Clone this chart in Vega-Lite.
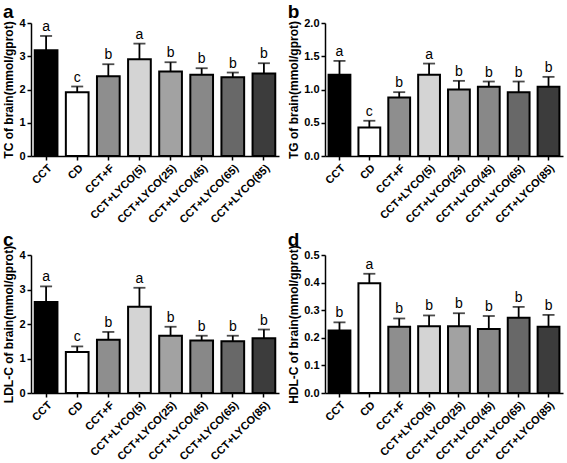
{
  "$schema": "https://vega.github.io/schema/vega-lite/v6.json",
  "background": "white",
  "padding": {"left": 2, "top": 3, "right": 2, "bottom": 0},
  "config": {
    "view": {"stroke": null},
    "font": "Liberation Sans",
    "axis": {
      "domainColor": "black", "domainWidth": 1.5, "tickColor": "black", "tickWidth": 1.5, "tickSize": 4,
      "labelColor": "black", "labelFont": "Liberation Sans", "labelFontWeight": "bold", "labelFontSize": 11, "labelOverlap": false,
      "titleColor": "black", "titleFont": "Liberation Sans", "titleFontWeight": "bold", "titleFontSize": 12, "grid": false
    },
    "axisX": {"labelFontSize": 11},
    "axisY": {"titlePadding": 3, "labelPadding": 2},
    "title": {"font": "Liberation Sans", "fontSize": 19, "fontWeight": "bold", "color": "black", "anchor": "start", "frame": "bounds", "offset": -5}
  },
  "datasets": {
    "d": [
      {"panel": "a", "group": "CCT", "mean": 3.18, "top": 3.61, "letter": "a"},
      {"panel": "a", "group": "CD", "mean": 1.92, "top": 2.09, "letter": "c"},
      {"panel": "a", "group": "CCT+F", "mean": 2.40, "top": 2.76, "letter": "b"},
      {"panel": "a", "group": "CCT+LYCO(5)", "mean": 2.91, "top": 3.38, "letter": "a"},
      {"panel": "a", "group": "CCT+LYCO(25)", "mean": 2.54, "top": 2.82, "letter": "b"},
      {"panel": "a", "group": "CCT+LYCO(45)", "mean": 2.44, "top": 2.64, "letter": "b"},
      {"panel": "a", "group": "CCT+LYCO(65)", "mean": 2.37, "top": 2.51, "letter": "b"},
      {"panel": "a", "group": "CCT+LYCO(85)", "mean": 2.48, "top": 2.79, "letter": "b"},
      {"panel": "b", "group": "CCT", "mean": 1.22, "top": 1.43, "letter": "a"},
      {"panel": "b", "group": "CD", "mean": 0.43, "top": 0.53, "letter": "c"},
      {"panel": "b", "group": "CCT+F", "mean": 0.88, "top": 0.96, "letter": "b"},
      {"panel": "b", "group": "CCT+LYCO(5)", "mean": 1.22, "top": 1.39, "letter": "a"},
      {"panel": "b", "group": "CCT+LYCO(25)", "mean": 1.00, "top": 1.13, "letter": "b"},
      {"panel": "b", "group": "CCT+LYCO(45)", "mean": 1.04, "top": 1.12, "letter": "b"},
      {"panel": "b", "group": "CCT+LYCO(65)", "mean": 0.96, "top": 1.12, "letter": "b"},
      {"panel": "b", "group": "CCT+LYCO(85)", "mean": 1.04, "top": 1.19, "letter": "b"},
      {"panel": "c", "group": "CCT", "mean": 2.64, "top": 3.09, "letter": "a"},
      {"panel": "c", "group": "CD", "mean": 1.19, "top": 1.35, "letter": "c"},
      {"panel": "c", "group": "CCT+F", "mean": 1.54, "top": 1.77, "letter": "b"},
      {"panel": "c", "group": "CCT+LYCO(5)", "mean": 2.50, "top": 3.05, "letter": "a"},
      {"panel": "c", "group": "CCT+LYCO(25)", "mean": 1.66, "top": 1.92, "letter": "b"},
      {"panel": "c", "group": "CCT+LYCO(45)", "mean": 1.52, "top": 1.66, "letter": "b"},
      {"panel": "c", "group": "CCT+LYCO(65)", "mean": 1.50, "top": 1.66, "letter": "b"},
      {"panel": "c", "group": "CCT+LYCO(85)", "mean": 1.59, "top": 1.84, "letter": "b"},
      {"panel": "d", "group": "CCT", "mean": 0.226, "top": 0.256, "letter": "b"},
      {"panel": "d", "group": "CD", "mean": 0.398, "top": 0.432, "letter": "a"},
      {"panel": "d", "group": "CCT+F", "mean": 0.240, "top": 0.270, "letter": "b"},
      {"panel": "d", "group": "CCT+LYCO(5)", "mean": 0.242, "top": 0.281, "letter": "b"},
      {"panel": "d", "group": "CCT+LYCO(25)", "mean": 0.242, "top": 0.289, "letter": "b"},
      {"panel": "d", "group": "CCT+LYCO(45)", "mean": 0.232, "top": 0.279, "letter": "b"},
      {"panel": "d", "group": "CCT+LYCO(65)", "mean": 0.273, "top": 0.312, "letter": "b"},
      {"panel": "d", "group": "CCT+LYCO(85)", "mean": 0.240, "top": 0.283, "letter": "b"}
    ]
  },
  "data": {"name": "d"},
  "vconcat": [
    {
      "hconcat": [
        {
          "width": 248, "height": 133,
          "title": {"text": "a"},
          "transform": [{"filter": "datum.panel == 'a'"}],
          "encoding": {"x": {"field": "group", "type": "nominal", "sort": null, "title": null, "scale": {"paddingInner": 0.27, "paddingOuter": 0.12}, "axis": {"labelAngle": -45, "labelAlign": "right", "labelBaseline": "top", "labelPadding": 2}}},
          "layer": [
            {"mark": {"type": "bar", "stroke": "black", "strokeWidth": 2}, "encoding": {"y": {"field": "mean", "type": "quantitative", "title": "TC of brain(mmol/gprot)", "scale": {"domain": [0, 4]}, "axis": {"values": [0, 1, 2, 3, 4], "format": "d"}}, "fill": {"field": "group", "type": "nominal", "sort": null, "legend": null, "scale": {"range": ["#000000", "#ffffff", "#8e8e8e", "#d4d4d4", "#a2a2a2", "#888888", "#686868", "#3c3c3c"]}}}},
            {"mark": {"type": "rule", "strokeWidth": 1.8, "color": "black"}, "encoding": {"y": {"field": "mean", "type": "quantitative", "title": "TC of brain(mmol/gprot)", "axis": {"values": [0, 1, 2, 3, 4], "format": "d"}}, "y2": {"field": "top"}}},
            {"mark": {"type": "tick", "thickness": 1.8, "size": 12, "color": "black"}, "encoding": {"y": {"field": "top", "type": "quantitative", "title": "TC of brain(mmol/gprot)", "axis": {"values": [0, 1, 2, 3, 4], "format": "d"}}}},
            {"mark": {"type": "text", "dy": -9, "fontSize": 14, "color": "black", "font": "Liberation Sans"}, "encoding": {"y": {"field": "top", "type": "quantitative", "title": "TC of brain(mmol/gprot)", "axis": {"values": [0, 1, 2, 3, 4], "format": "d"}}, "text": {"field": "letter"}}}
          ]
        },
        {
          "width": 238, "height": 133,
          "title": {"text": "b"},
          "transform": [{"filter": "datum.panel == 'b'"}],
          "encoding": {"x": {"field": "group", "type": "nominal", "sort": null, "title": null, "scale": {"paddingInner": 0.27, "paddingOuter": 0.12}, "axis": {"labelAngle": -45, "labelAlign": "right", "labelBaseline": "top", "labelPadding": 2}}},
          "layer": [
            {"mark": {"type": "bar", "stroke": "black", "strokeWidth": 2}, "encoding": {"y": {"field": "mean", "type": "quantitative", "title": "TG of brain(mmol/gprot)", "scale": {"domain": [0, 2]}, "axis": {"values": [0, 0.5, 1, 1.5, 2], "format": ".1f"}}, "fill": {"field": "group", "type": "nominal", "sort": null, "legend": null, "scale": {"range": ["#000000", "#ffffff", "#8e8e8e", "#d4d4d4", "#a2a2a2", "#888888", "#686868", "#3c3c3c"]}}}},
            {"mark": {"type": "rule", "strokeWidth": 1.8, "color": "black"}, "encoding": {"y": {"field": "mean", "type": "quantitative", "title": "TG of brain(mmol/gprot)", "axis": {"values": [0, 0.5, 1, 1.5, 2], "format": ".1f"}}, "y2": {"field": "top"}}},
            {"mark": {"type": "tick", "thickness": 1.8, "size": 12, "color": "black"}, "encoding": {"y": {"field": "top", "type": "quantitative", "title": "TG of brain(mmol/gprot)", "axis": {"values": [0, 0.5, 1, 1.5, 2], "format": ".1f"}}}},
            {"mark": {"type": "text", "dy": -9, "fontSize": 14, "color": "black", "font": "Liberation Sans"}, "encoding": {"y": {"field": "top", "type": "quantitative", "title": "TG of brain(mmol/gprot)", "axis": {"values": [0, 0.5, 1, 1.5, 2], "format": ".1f"}}, "text": {"field": "letter"}}}
          ]
        }
      ],
      "spacing": 8
    },
    {
      "hconcat": [
        {
          "width": 248, "height": 138,
          "title": {"text": "c"},
          "transform": [{"filter": "datum.panel == 'c'"}],
          "encoding": {"x": {"field": "group", "type": "nominal", "sort": null, "title": null, "scale": {"paddingInner": 0.27, "paddingOuter": 0.12}, "axis": {"labelAngle": -45, "labelAlign": "right", "labelBaseline": "top", "labelPadding": 2}}},
          "layer": [
            {"mark": {"type": "bar", "stroke": "black", "strokeWidth": 2}, "encoding": {"y": {"field": "mean", "type": "quantitative", "title": "LDL-C of brain(mmol/gprot)", "scale": {"domain": [0, 4]}, "axis": {"values": [0, 1, 2, 3, 4], "format": "d"}}, "fill": {"field": "group", "type": "nominal", "sort": null, "legend": null, "scale": {"range": ["#000000", "#ffffff", "#8e8e8e", "#d4d4d4", "#a2a2a2", "#888888", "#686868", "#3c3c3c"]}}}},
            {"mark": {"type": "rule", "strokeWidth": 1.8, "color": "black"}, "encoding": {"y": {"field": "mean", "type": "quantitative", "title": "LDL-C of brain(mmol/gprot)", "axis": {"values": [0, 1, 2, 3, 4], "format": "d"}}, "y2": {"field": "top"}}},
            {"mark": {"type": "tick", "thickness": 1.8, "size": 12, "color": "black"}, "encoding": {"y": {"field": "top", "type": "quantitative", "title": "LDL-C of brain(mmol/gprot)", "axis": {"values": [0, 1, 2, 3, 4], "format": "d"}}}},
            {"mark": {"type": "text", "dy": -9, "fontSize": 14, "color": "black", "font": "Liberation Sans"}, "encoding": {"y": {"field": "top", "type": "quantitative", "title": "LDL-C of brain(mmol/gprot)", "axis": {"values": [0, 1, 2, 3, 4], "format": "d"}}, "text": {"field": "letter"}}}
          ]
        },
        {
          "width": 238, "height": 138,
          "title": {"text": "d"},
          "transform": [{"filter": "datum.panel == 'd'"}],
          "encoding": {"x": {"field": "group", "type": "nominal", "sort": null, "title": null, "scale": {"paddingInner": 0.27, "paddingOuter": 0.12}, "axis": {"labelAngle": -45, "labelAlign": "right", "labelBaseline": "top", "labelPadding": 2}}},
          "layer": [
            {"mark": {"type": "bar", "stroke": "black", "strokeWidth": 2}, "encoding": {"y": {"field": "mean", "type": "quantitative", "title": "HDL-C of brain(mmol/gprot)", "scale": {"domain": [0, 0.5]}, "axis": {"values": [0, 0.1, 0.2, 0.3, 0.4, 0.5], "format": ".1f"}}, "fill": {"field": "group", "type": "nominal", "sort": null, "legend": null, "scale": {"range": ["#000000", "#ffffff", "#8e8e8e", "#d4d4d4", "#a2a2a2", "#888888", "#686868", "#3c3c3c"]}}}},
            {"mark": {"type": "rule", "strokeWidth": 1.8, "color": "black"}, "encoding": {"y": {"field": "mean", "type": "quantitative", "title": "HDL-C of brain(mmol/gprot)", "axis": {"values": [0, 0.1, 0.2, 0.3, 0.4, 0.5], "format": ".1f"}}, "y2": {"field": "top"}}},
            {"mark": {"type": "tick", "thickness": 1.8, "size": 12, "color": "black"}, "encoding": {"y": {"field": "top", "type": "quantitative", "title": "HDL-C of brain(mmol/gprot)", "axis": {"values": [0, 0.1, 0.2, 0.3, 0.4, 0.5], "format": ".1f"}}}},
            {"mark": {"type": "text", "dy": -9, "fontSize": 14, "color": "black", "font": "Liberation Sans"}, "encoding": {"y": {"field": "top", "type": "quantitative", "title": "HDL-C of brain(mmol/gprot)", "axis": {"values": [0, 0.1, 0.2, 0.3, 0.4, 0.5], "format": ".1f"}}, "text": {"field": "letter"}}}
          ]
        }
      ],
      "spacing": 8
    }
  ],
  "spacing": 4
}
